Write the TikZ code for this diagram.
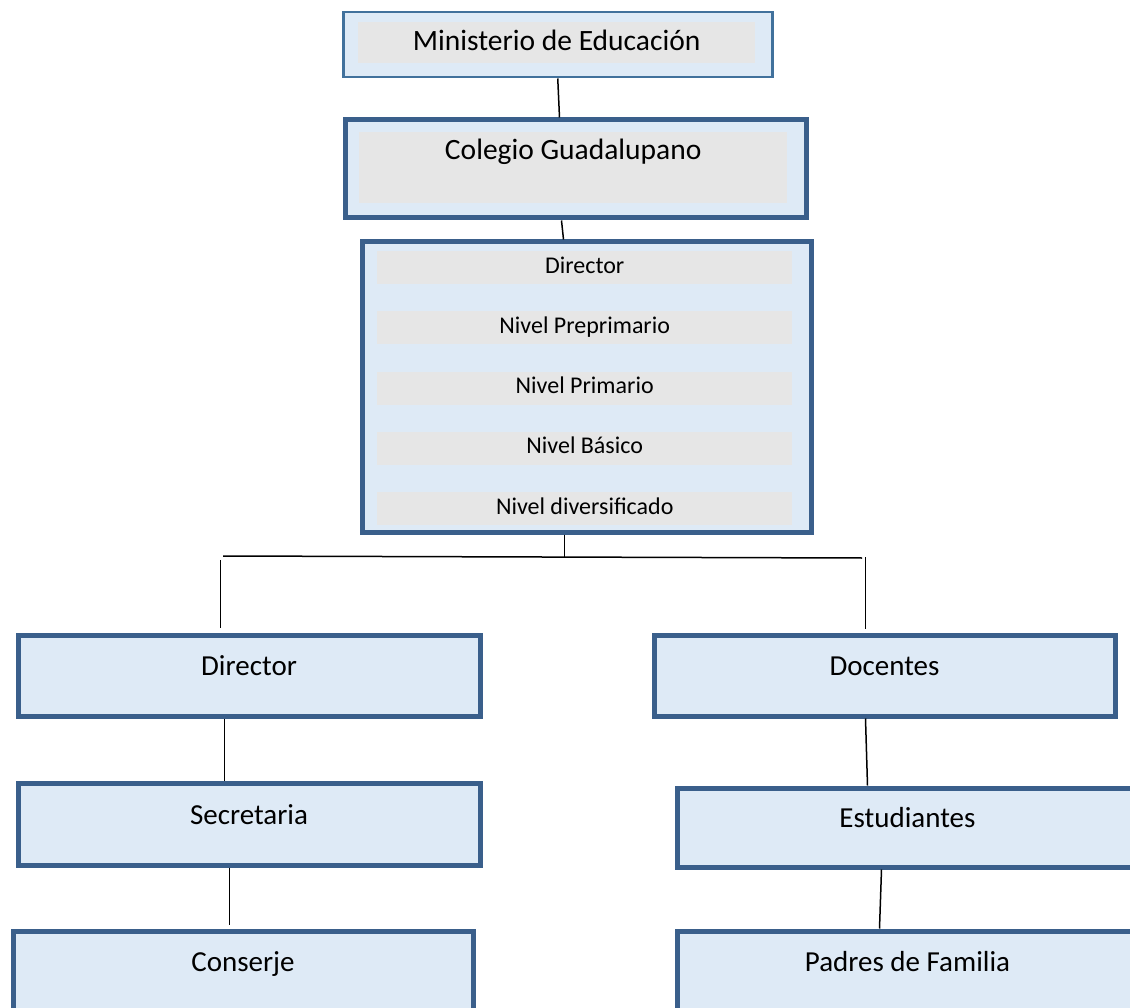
\documentclass[tikz,border=0pt]{standalone}
\usepackage{fontspec}
\setmainfont{Carlito}
\definecolor{borde}{HTML}{3A5F8B}
\definecolor{bordefino}{HTML}{41719C}
\definecolor{celeste}{HTML}{DEEAF6}
\definecolor{gris}{HTML}{E6E6E6}
\tikzset{
    caja/.style={
        draw=borde,
        line width=5pt,
        fill=celeste,
        anchor=north west,
        inner sep=0pt,
        font=\fontsize{29}{34}\selectfont,
        text height=13pt,
        text depth=13pt},
    fila/.style={
        fill=gris,
        anchor=north west,
        inner sep=0pt,
        minimum width=415pt,
        minimum height=33pt,
        font=\fontsize{24}{28}\selectfont,
        text height=16pt,
        text depth=5pt},
    linea/.style={
        draw=black,
        line width=1.5pt}}

\begin{document}
\begin{tikzpicture}[x=1pt,y=-1pt]
        \useasboundingbox (0,0) rectangle (1130,1008);
        \clip (0,0) rectangle (1130,1008);

        \node[caja, draw=bordefino, line width=2.5pt, minimum width=429pt, minimum height=65pt] (ministerio) at (342,11) {};
        \node[fila, minimum width=397pt, minimum height=41pt, font=\fontsize{29.5}{34}\selectfont, text height=20pt, text depth=5pt] (ministerioT) at (358,22) {Ministerio de Educación};

        \node[caja, minimum width=461pt, minimum height=98pt] (colegio) at (342.5,117.5) {};
        \node[fila, minimum width=428pt, minimum height=71pt, font=\fontsize{29.5}{34}\selectfont, text height=20pt, text depth=37pt] (colegioT) at (359,132) {Colegio Guadalupano};

        \node[caja, minimum width=449pt, minimum height=290pt] (niveles) at (359.5,239.5) {};
        \foreach \n/\t [count=\i from 0] in {dir/Director, pre/Nivel Preprimario, pri/Nivel Primario, bas/Nivel Básico, div/Nivel diversificado}
            \node[fila] (\n) at (377,251+60.25*\i) {\t};

        \node[caja, minimum width=462pt, minimum height=81pt] (director) at (15.5,632.5) {Director};
        \node[caja, minimum width=462pt, minimum height=82pt] (secretaria) at (15.5,780.5) {Secretaria};
        \node[caja, minimum width=460pt, minimum height=81pt] (conserje) at (10.5,928.5) {Conserje};

        \node[caja, minimum width=461pt, minimum height=81pt] (docentes) at (651.5,632.5) {Docentes};
        \node[caja, minimum width=461pt, minimum height=79pt] (estudiantes) at (674.5,785.5) {Estudiantes};
        \node[caja, minimum width=461pt, minimum height=81pt] (padres) at (674.5,928.5) {Padres de Familia};

        \coordinate (busI) at (223,556);
        \coordinate (busD) at (862,558);

        \draw[linea] (ministerio.south) -- ([xshift=-16pt]colegio.north);
        \draw[linea] ([xshift=-14pt]colegio.south) -- ([xshift=-23pt]niveles.north);
        \draw[linea] ([xshift=-22pt]niveles.south) -- ++(0,22);
        \draw[linea] (busI) -- (busD);
        \draw[linea] ([xshift=-28.5pt,yshift=5pt]director.north) -- ++(0,-68);
        \draw[linea] ([xshift=-19pt,yshift=4pt]docentes.north) -- ++(0,-72);
        \draw[linea] ([xshift=-24.5pt]director.south) -- ([xshift=-24.5pt]secretaria.north);
        \draw[linea] ([xshift=-19.5pt]secretaria.south) -- ([xshift=-13.5pt,yshift=4pt]conserje.north);
        \draw[linea] ([xshift=-19pt]docentes.south) -- ([xshift=-40pt]estudiantes.north);
        \draw[linea] ([xshift=-26pt]estudiantes.south) -- ([xshift=-28pt]padres.north);
    \end{tikzpicture}
\end{document}
